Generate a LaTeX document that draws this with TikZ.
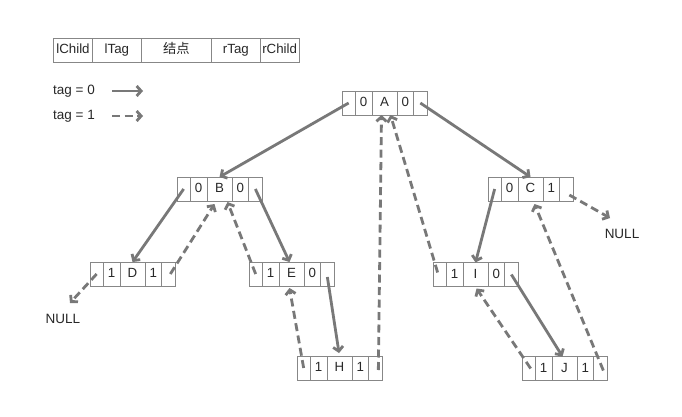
\documentclass[tikz,border=0pt]{standalone}
\usepackage{fontspec}
\setmainfont{Liberation Sans}
\newfontfamily\cjk{Noto Sans CJK SC}
\usetikzlibrary{arrows.meta,calc}
\definecolor{bordergray}{RGB}{135,135,135}
\definecolor{arrgray}{RGB}{120,120,120}
\definecolor{txtgray}{RGB}{40,40,40}
\newcommand\treenode[6]{%
  \node[cell,minimum width=13.3pt,anchor=north west] (#1-lc) at (#2,#3) {};
  \node[cell,minimum width=16.7pt,anchor=north west] (#1-lt) at (#1-lc.north east) {#4};
  \node[cell,minimum width=25pt,anchor=north west] (#1-d) at (#1-lt.north east) {#5};
  \node[cell,minimum width=16.7pt,anchor=north west] (#1-rt) at (#1-d.north east) {#6};
  \node[cell,minimum width=13.3pt,anchor=north west] (#1-rc) at (#1-rt.north east) {};
}
\begin{document}
\begin{tikzpicture}[x=1pt,y=-1pt,
  cell/.style={draw=bordergray,line width=0.7pt,minimum height=24pt,inner sep=0pt,outer sep=0pt,
    text height=9.6pt,text depth=2.2pt,
    text=txtgray,font=\fontsize{13.3}{15}\selectfont},
  lbl/.style={text=txtgray,font=\fontsize{13.5}{15}\selectfont,inner sep=0pt},
  solidarr/.style={draw=arrgray,line width=2.8pt,-{Straight Barb[length=4.5pt,width=10pt]}},
  dasharr/.style={solidarr,dash pattern=on 8pt off 4.5pt}]
\useasboundingbox[fill=white] (0,0) rectangle (682,417);
% legend table
\node[cell,minimum width=39.4pt,anchor=north west] (h1) at (53.3,38.3) {lChild};
\node[cell,minimum width=48.3pt,anchor=north west] (h2) at (h1.north east) {lTag};
\node[cell,minimum width=70.7pt,anchor=north west] (h3) at (h2.north east) {\cjk 结点};
\node[cell,minimum width=48.3pt,anchor=north west] (h4) at (h3.north east) {rTag};
\node[cell,minimum width=39.3pt,anchor=north west] (h5) at (h4.north east) {rChild};
% legend arrows
\node[lbl,anchor=west] (t0) at (53,91) {tag = 0};
\node[lbl,anchor=west] (t1) at (53,116) {tag = 1};
\coordinate (t0a) at (112,91);
\coordinate (t0b) at (143,91);
\coordinate (t1a) at (112,116);
\coordinate (t1b) at (143,116);
\draw[solidarr] (t0a) -- (t0b);
\draw[dasharr] (t1a) -- (t1b);
% tree nodes
\treenode{A}{342}{91}{0}{A}{0}
\treenode{B}{177}{177}{0}{B}{0}
\treenode{C}{488}{177}{0}{C}{1}
\treenode{D}{90}{262}{1}{D}{1}
\treenode{E}{249}{262}{1}{E}{0}
\treenode{I}{433}{262.5}{1}{I}{0}
\treenode{H}{297}{356}{1}{H}{1}
\treenode{J}{522}{356.5}{1}{J}{1}
% NULL labels
\node[lbl] (null1) at (63,319) {NULL};
\node[lbl] (null2) at (622,234) {NULL};
\coordinate (n1) at (70,303);
\coordinate (n2) at (610,218);
% child pointers
\draw[solidarr] (A-lc.center) -- (B-d.north);
\draw[solidarr] (A-rc.center) -- (C-d.north);
\draw[solidarr] (B-lc.center) -- (D-d.north);
\draw[solidarr] (B-rc.center) -- ([xshift=-2pt]E-d.north);
\draw[solidarr,shorten >=3pt] ($(E-rc.center)+(0,3)$) -- (H-d.north);
\draw[solidarr] (C-lc.center) -- (I-d.north);
\draw[solidarr] (I-rc.center) -- ([xshift=-2pt]J-d.north);
% threads
\draw[dasharr] (D-lc.center) -- (n1);
\draw[dasharr] ($(D-rc.center)+(2,0)$) -- ($(B-d.south)+(-5,3)$);
\draw[dasharr] (E-lc.center) -- ($(B-d.south)+(8,1)$);
\draw[dasharr] (H-lc.center) -- ($(E-d.south)+(-2,2)$);
\draw[dasharr] ($(H-rc.center)+(3,2)$) -- ($(A-d.south)+(-3,0)$);
\draw[dasharr] ($(I-lc.center)+(-2,-2)$) -- ($(A-d.south)+(6,0)$);
\draw[dasharr] ($(C-rc.center)+(3,6)$) -- (n2);
\draw[dasharr] ($(J-lc.center)+(2,0)$) -- ($(I-d.south)+(1,2)$);
\draw[dasharr] ($(J-rc.center)+(3,2)$) -- ($(C-d.south)+(4,3)$);
\end{tikzpicture}
\end{document}
